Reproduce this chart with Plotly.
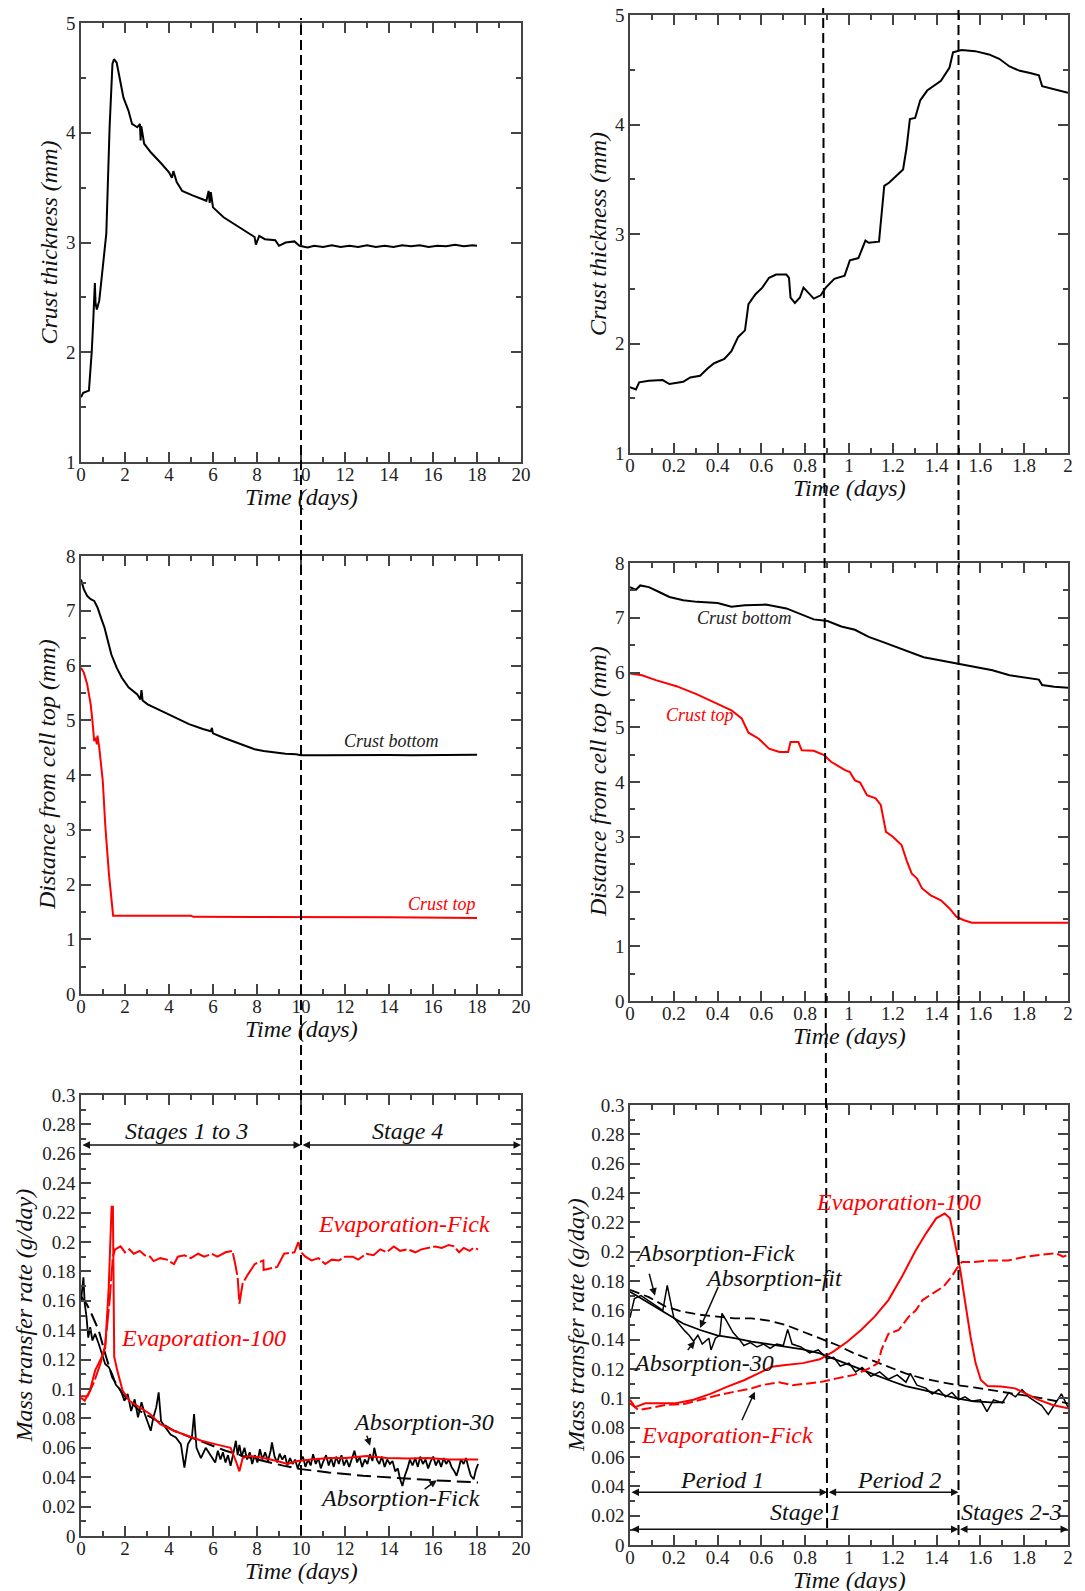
import plotly.graph_objects as go

W, H = 1085, 1591
OFF = 8  # the page body margin shifts the figure by this many px

# ---------------- data (time in days) ----------------
thk_long = [(0, 1.59), (0.1, 1.63), (0.36, 1.65), (0.44, 1.86), (0.49, 2.01), (0.56, 2.3), (0.6, 2.53),
            (0.63, 2.63), (0.66, 2.45), (0.72, 2.39), (0.83, 2.47), (0.99, 2.77), (1.15, 3.08), (1.22, 3.53),
            (1.30, 4.05), (1.43, 4.63), (1.5, 4.67), (1.62, 4.64), (1.74, 4.51), (1.93, 4.32), (2.16, 4.20),
            (2.32, 4.08), (2.56, 4.05), (2.68, 4.08), (2.71, 3.93), (2.74, 4.06), (2.87, 3.90), (3.18, 3.82),
            (3.65, 3.72), (4.0, 3.64), (4.13, 3.59), (4.2, 3.65), (4.35, 3.55), (4.6, 3.47), (5.07, 3.43),
            (5.7, 3.38), (5.8, 3.47), (5.85, 3.36), (5.9, 3.46), (6.0, 3.32), (6.48, 3.23), (6.95, 3.17),
            (7.42, 3.11), (7.89, 3.05), (7.95, 2.98), (8.1, 3.06), (8.36, 3.03), (8.83, 3.02), (9.0, 2.97),
            (9.3, 3.0), (9.7, 3.01), (9.93, 2.97), (10.3, 2.955), (10.6, 2.97), (11, 2.96), (11.4, 2.975),
            (11.8, 2.96), (12.2, 2.97), (12.6, 2.96), (13, 2.975), (13.4, 2.96), (13.8, 2.97), (14.2, 2.96),
            (14.6, 2.975), (15, 2.965), (15.4, 2.975), (15.8, 2.96), (16.2, 2.97), (16.6, 2.965), (17, 2.98),
            (17.4, 2.965), (17.8, 2.975), (18, 2.97)]

thk_short = [(0, 1.60), (0.027, 1.58), (0.042, 1.645), (0.086, 1.66), (0.149, 1.666), (0.18, 1.63),
             (0.243, 1.65), (0.275, 1.69), (0.32, 1.705), (0.353, 1.77), (0.384, 1.82), (0.431, 1.86),
             (0.463, 1.93), (0.494, 2.06), (0.525, 2.12), (0.541, 2.36), (0.573, 2.45), (0.604, 2.51),
             (0.635, 2.60), (0.667, 2.63), (0.714, 2.63), (0.726, 2.60), (0.733, 2.42), (0.753, 2.37),
             (0.776, 2.42), (0.792, 2.51), (0.816, 2.46), (0.839, 2.41), (0.871, 2.44), (0.894, 2.51),
             (0.933, 2.59), (0.98, 2.62), (1.004, 2.76), (1.043, 2.78), (1.075, 2.94), (1.09, 2.92),
             (1.137, 2.93), (1.161, 3.44), (1.184, 3.47), (1.216, 3.53), (1.247, 3.59), (1.263, 3.79),
             (1.278, 4.05), (1.302, 4.06), (1.325, 4.22), (1.357, 4.31), (1.42, 4.40), (1.459, 4.52),
             (1.475, 4.66), (1.514, 4.68), (1.576, 4.67), (1.639, 4.64), (1.686, 4.60), (1.733, 4.53),
             (1.78, 4.49), (1.827, 4.47), (1.867, 4.45), (1.882, 4.35), (1.92, 4.33), (1.969, 4.31), (2.0, 4.29)]

bottom_long = [(0, 7.57), (0.13, 7.39), (0.28, 7.27), (0.44, 7.21), (0.6, 7.18), (0.75, 7.06), (0.91, 6.87),
               (1.07, 6.69), (1.22, 6.45), (1.38, 6.20), (1.62, 5.96), (1.85, 5.78), (2.16, 5.60), (2.56, 5.47),
               (2.7, 5.38), (2.75, 5.55), (2.8, 5.36), (3.03, 5.29), (3.65, 5.17), (4.28, 5.05), (4.91, 4.93),
               (5.54, 4.84), (5.9, 4.80), (5.95, 4.86), (6.0, 4.76), (6.48, 4.68), (7.1, 4.59), (7.89, 4.47),
               (8.3, 4.44), (8.83, 4.41), (9.3, 4.39), (9.77, 4.38), (10.0, 4.36), (11, 4.36), (12, 4.365),
               (13, 4.36), (14, 4.365), (15, 4.36), (16, 4.365), (17, 4.36), (18, 4.37)]
top_long = [(0, 5.96), (0.13, 5.87), (0.28, 5.66), (0.44, 5.29), (0.52, 4.99), (0.6, 4.62), (0.67, 4.68),
            (0.72, 4.56), (0.75, 4.72), (0.78, 4.58), (0.83, 4.50), (0.99, 3.89), (1.11, 3.04), (1.27, 2.19),
            (1.46, 1.43), (3, 1.43), (5, 1.43), (5.1, 1.41), (10, 1.41), (14, 1.40), (18, 1.39)]

bottom_short = [(0, 7.56), (0.027, 7.51), (0.047, 7.59), (0.086, 7.56), (0.133, 7.47), (0.18, 7.38),
                (0.243, 7.32), (0.306, 7.29), (0.4, 7.27), (0.463, 7.20), (0.525, 7.23), (0.62, 7.24),
                (0.714, 7.17), (0.776, 7.07), (0.839, 6.97), (0.902, 6.94), (0.965, 6.84), (1.027, 6.78),
                (1.09, 6.65), (1.153, 6.56), (1.216, 6.47), (1.278, 6.37), (1.341, 6.28), (1.42, 6.22),
                (1.498, 6.16), (1.576, 6.09), (1.655, 6.04), (1.733, 5.95), (1.812, 5.91), (1.867, 5.87),
                (1.882, 5.77), (1.937, 5.74), (2.0, 5.72)]
top_short = [(0, 5.98), (0.055, 5.95), (0.118, 5.86), (0.212, 5.75), (0.306, 5.60), (0.4, 5.43), (0.463, 5.31),
             (0.51, 5.16), (0.541, 4.90), (0.588, 4.79), (0.635, 4.61), (0.682, 4.55), (0.722, 4.55),
             (0.733, 4.73), (0.769, 4.73), (0.784, 4.58), (0.839, 4.57), (0.886, 4.49), (0.918, 4.37),
             (0.98, 4.22), (1.004, 4.18), (1.027, 4.03), (1.051, 3.99), (1.082, 3.76), (1.122, 3.70),
             (1.145, 3.58), (1.169, 3.09), (1.2, 3.00), (1.24, 2.85), (1.263, 2.57), (1.286, 2.33),
             (1.31, 2.24), (1.333, 2.06), (1.373, 1.93), (1.42, 1.84), (1.459, 1.69), (1.49, 1.54),
             (1.522, 1.48), (1.561, 1.43), (2.0, 1.43)]

evap_fick_long = [(0, 0.095), (0.3, 0.095), (0.6, 0.105), (0.9, 0.118), (1.1, 0.13), (1.3, 0.16), (1.45, 0.19),
                  (1.55, 0.195), (1.8, 0.197), (2.0, 0.193), (2.2, 0.195), (2.4, 0.192), (2.67, 0.194),
                  (2.9, 0.191), (3.14, 0.190), (3.3, 0.187), (3.6, 0.189), (3.9, 0.188), (4.23, 0.185),
                  (4.4, 0.190), (4.7, 0.191), (5.0, 0.189), (5.32, 0.192), (5.6, 0.190), (5.95, 0.192),
                  (6.2, 0.190), (6.57, 0.193), (6.88, 0.194), (7.01, 0.185), (7.12, 0.176), (7.2, 0.158),
                  (7.35, 0.172), (7.59, 0.178), (7.9, 0.185), (8.29, 0.1875), (8.3, 0.181), (8.92, 0.183),
                  (9.23, 0.192), (9.7, 0.193), (9.88, 0.200), (10.0, 0.193), (10.2, 0.190), (10.48, 0.1875),
                  (10.8, 0.189), (11.1, 0.185), (11.4, 0.188), (11.73, 0.1875), (12.0, 0.190), (12.35, 0.19),
                  (12.6, 0.188), (12.97, 0.192), (13.3, 0.191), (13.6, 0.195), (13.9, 0.193), (14.22, 0.197),
                  (14.5, 0.194), (14.85, 0.195), (15.2, 0.193), (15.47, 0.195), (15.8, 0.196), (16.1, 0.197),
                  (16.4, 0.196), (16.72, 0.198), (16.95, 0.197), (17.19, 0.193), (17.4, 0.196), (17.66, 0.194),
                  (17.85, 0.196), (18.05, 0.195)]
evap_100_long = [(0, 0.094), (0.17, 0.092), (0.41, 0.099), (0.64, 0.1125), (0.95, 0.122), (1.1, 0.128),
                 (1.26, 0.169), (1.39, 0.224), (1.45, 0.224), (1.51, 0.122), (1.65, 0.1125), (1.89, 0.099),
                 (2.2, 0.092), (2.67, 0.0875), (3.14, 0.083), (3.6, 0.076), (4.23, 0.0716), (4.86, 0.068),
                 (5.48, 0.0648), (6.1, 0.0625), (6.8, 0.060), (7.04, 0.051), (7.2, 0.044), (7.35, 0.053),
                 (7.67, 0.0545), (8.29, 0.053), (8.92, 0.051), (9.38, 0.049), (9.85, 0.051), (10.48, 0.052),
                 (11.26, 0.053), (12.04, 0.053), (12.97, 0.0545), (13.91, 0.053), (14.85, 0.0527),
                 (15.78, 0.053), (16.72, 0.052), (18.05, 0.052)]
abs_30_long = [(0, 0.16), (0.05, 0.169), (0.11, 0.176), (0.17, 0.158), (0.25, 0.149), (0.33, 0.135), (0.42, 0.142),
               (0.52, 0.133), (0.64, 0.1375), (0.8, 0.131), (0.95, 0.124), (1.1, 0.117), (1.26, 0.115),
               (1.42, 0.110), (1.58, 0.103), (1.81, 0.099), (1.97, 0.092), (2.12, 0.0966), (2.28, 0.085),
               (2.44, 0.093), (2.59, 0.0807), (2.75, 0.091), (2.9, 0.083), (3.06, 0.076), (3.17, 0.0716),
               (3.29, 0.0807), (3.42, 0.0875), (3.53, 0.0977), (3.64, 0.078), (3.84, 0.0739), (4.07, 0.069),
               (4.31, 0.067), (4.54, 0.0625), (4.7, 0.0466), (4.86, 0.0625), (5.04, 0.067), (5.14, 0.083),
               (5.25, 0.060), (5.45, 0.053), (5.67, 0.060), (5.87, 0.0557), (6.1, 0.050), (6.22, 0.058),
               (6.34, 0.052), (6.45, 0.057), (6.57, 0.050), (6.68, 0.055), (6.8, 0.0477), (6.92, 0.056),
               (7.04, 0.0648), (7.12, 0.055), (7.2, 0.062), (7.3, 0.054), (7.43, 0.060), (7.55, 0.052),
               (7.67, 0.057), (7.78, 0.049), (7.9, 0.055), (8.02, 0.050), (8.13, 0.059), (8.25, 0.052),
               (8.37, 0.057), (8.5, 0.051), (8.62, 0.058), (8.68, 0.0636), (8.8, 0.054), (8.92, 0.050),
               (9.03, 0.056), (9.15, 0.052), (9.27, 0.055), (9.38, 0.048), (9.5, 0.053), (9.62, 0.049),
               (9.73, 0.052), (9.85, 0.046), (9.97, 0.051), (10.09, 0.054), (10.2, 0.047), (10.32, 0.052),
               (10.44, 0.048), (10.55, 0.0557), (10.67, 0.049), (10.79, 0.053), (10.9, 0.046), (11.02, 0.051),
               (11.14, 0.055), (11.26, 0.048), (11.37, 0.053), (11.49, 0.047), (11.6, 0.054), (11.72, 0.049),
               (11.84, 0.055), (11.95, 0.048), (12.07, 0.052), (12.19, 0.047), (12.31, 0.053), (12.43, 0.058),
               (12.55, 0.050), (12.66, 0.054), (12.78, 0.047), (12.9, 0.052), (13.02, 0.049), (13.13, 0.0557),
               (13.25, 0.051), (13.33, 0.060), (13.45, 0.052), (13.56, 0.049), (13.68, 0.054), (13.8, 0.047),
               (13.92, 0.052), (14.04, 0.049), (14.16, 0.051), (14.28, 0.044), (14.4, 0.046), (14.5, 0.039),
               (14.61, 0.034), (14.72, 0.041), (14.84, 0.046), (14.95, 0.052), (15.07, 0.048), (15.19, 0.053),
               (15.31, 0.047), (15.42, 0.054), (15.54, 0.049), (15.66, 0.052), (15.78, 0.046), (15.9, 0.051),
               (16.01, 0.054), (16.13, 0.048), (16.25, 0.052), (16.37, 0.047), (16.49, 0.053), (16.6, 0.049),
               (16.72, 0.052), (16.84, 0.047), (16.96, 0.0443), (17.07, 0.041), (17.17, 0.046), (17.27, 0.052),
               (17.39, 0.049), (17.5, 0.053), (17.62, 0.046), (17.72, 0.041), (17.85, 0.0386), (17.95, 0.045),
               (18.05, 0.049)]
abs_fick_long = [(0, 0.163), (0.25, 0.158), (0.48, 0.151), (0.8, 0.14), (1.1, 0.124), (1.42, 0.108),
                 (1.89, 0.0966), (2.67, 0.085), (3.45, 0.0784), (4.23, 0.0716), (5.01, 0.067), (5.79, 0.0625),
                 (6.57, 0.058), (7.35, 0.0545), (8.29, 0.051), (9.23, 0.0477), (10.0, 0.0455), (11.26, 0.0432),
                 (12.82, 0.041), (14.38, 0.0393), (15.94, 0.038), (18.05, 0.0364)]

evap_100_short = [(0, 0.099), (0.023, 0.094), (0.07, 0.0966), (0.133, 0.0966), (0.21, 0.0966), (0.29, 0.099),
                  (0.367, 0.103), (0.445, 0.108), (0.523, 0.1125), (0.586, 0.117), (0.648, 0.1216),
                  (0.711, 0.1227), (0.789, 0.124), (0.867, 0.1266), (0.93, 0.132), (0.992, 0.1386),
                  (1.055, 0.1466), (1.117, 0.1557), (1.18, 0.167), (1.242, 0.183), (1.305, 0.201),
                  (1.352, 0.2125), (1.398, 0.2227), (1.437, 0.226), (1.461, 0.2227), (1.484, 0.2057),
                  (1.508, 0.1875), (1.531, 0.165), (1.555, 0.142), (1.578, 0.124), (1.602, 0.1125),
                  (1.633, 0.1084), (1.695, 0.108), (1.758, 0.1068), (1.805, 0.1034), (1.867, 0.0989),
                  (1.93, 0.0955), (2.0, 0.0932)]
evap_fick_short = [(0, 0.0966), (0.039, 0.092), (0.086, 0.0932), (0.164, 0.0955), (0.242, 0.096), (0.32, 0.099),
                   (0.398, 0.102), (0.477, 0.1045), (0.555, 0.1068), (0.602, 0.109), (0.68, 0.111),
                   (0.742, 0.109), (0.805, 0.110), (0.867, 0.111), (0.945, 0.1136), (1.023, 0.116),
                   (1.086, 0.120), (1.133, 0.124), (1.148, 0.133), (1.18, 0.144), (1.227, 0.1466),
                   (1.273, 0.1557), (1.305, 0.160), (1.336, 0.167), (1.383, 0.1716), (1.43, 0.176),
                   (1.469, 0.183), (1.492, 0.1886), (1.516, 0.193), (1.57, 0.193), (1.648, 0.194),
                   (1.727, 0.194), (1.805, 0.1966), (1.883, 0.1977), (1.945, 0.199), (1.977, 0.1966), (2.0, 0.1977)]
abs_fick_short = [(0, 0.174), (0.086, 0.169), (0.164, 0.1625), (0.242, 0.159), (0.32, 0.157), (0.398, 0.1557),
                  (0.477, 0.1545), (0.555, 0.1545), (0.633, 0.153), (0.711, 0.150), (0.789, 0.1455),
                  (0.867, 0.141), (0.945, 0.1364), (1.023, 0.1307), (1.102, 0.126), (1.18, 0.1216),
                  (1.258, 0.117), (1.336, 0.1136), (1.414, 0.1114), (1.492, 0.109), (1.57, 0.1075),
                  (1.648, 0.1057), (1.727, 0.1039), (1.805, 0.1023), (1.883, 0.100), (1.961, 0.0977), (2.0, 0.0966)]
abs_fit_short = [(0, 0.1727), (0.086, 0.1648), (0.164, 0.158), (0.242, 0.151), (0.32, 0.1466), (0.398, 0.143),
                 (0.477, 0.141), (0.555, 0.1386), (0.633, 0.137), (0.711, 0.135), (0.789, 0.1334),
                 (0.867, 0.1307), (0.945, 0.126), (1.023, 0.1216), (1.102, 0.117), (1.18, 0.1125),
                 (1.258, 0.1084), (1.336, 0.1057), (1.414, 0.103), (1.492, 0.100), (1.57, 0.098),
                 (1.648, 0.0973), (1.711, 0.0973)]
abs_30_short = [(0, 0.155), (0.02, 0.168), (0.05, 0.17), (0.1, 0.165), (0.15, 0.16), (0.17, 0.177), (0.2, 0.155),
                (0.25, 0.146), (0.27, 0.143), (0.29, 0.139), (0.31, 0.143), (0.33, 0.137), (0.36, 0.141),
                (0.37, 0.133), (0.39, 0.141), (0.41, 0.143), (0.42, 0.158), (0.44, 0.153), (0.47, 0.145),
                (0.5, 0.14), (0.52, 0.136), (0.55, 0.138), (0.58, 0.135), (0.61, 0.137), (0.64, 0.134),
                (0.67, 0.137), (0.7, 0.136), (0.72, 0.147), (0.74, 0.137), (0.78, 0.135), (0.82, 0.131),
                (0.86, 0.133), (0.9, 0.127), (0.93, 0.128), (0.96, 0.122), (1.0, 0.124), (1.03, 0.118),
                (1.06, 0.121), (1.1, 0.115), (1.14, 0.118), (1.18, 0.113), (1.22, 0.116), (1.26, 0.111),
                (1.28, 0.117), (1.31, 0.109), (1.35, 0.107), (1.38, 0.103), (1.41, 0.106), (1.44, 0.101),
                (1.47, 0.104), (1.5, 0.099), (1.53, 0.101), (1.56, 0.098), (1.6, 0.099), (1.63, 0.091),
                (1.66, 0.099), (1.7, 0.097), (1.73, 0.104), (1.76, 0.101), (1.79, 0.106), (1.82, 0.101),
                (1.85, 0.098), (1.88, 0.095), (1.91, 0.089), (1.94, 0.096), (1.97, 0.103), (2.0, 0.094)]

# tick labels
x_long_ticks = [0, 2, 4, 6, 8, 10, 12, 14, 16, 18, 20]
x_short_ticks = [0, 0.2, 0.4, 0.6, 0.8, 1, 1.2, 1.4, 1.6, 1.8, 2]
x_short_text = ["0", "0.2", "0.4", "0.6", "0.8", "1", "1.2", "1.4", "1.6", "1.8", "2"]
thk_ticks = [1, 2, 3, 4, 5]
dist_ticks = [0, 1, 2, 3, 4, 5, 6, 7, 8]
rate_ticks = [0, 0.02, 0.04, 0.06, 0.08, 0.1, 0.12, 0.14, 0.16, 0.18, 0.2, 0.22, 0.24, 0.26, 0.28, 0.3]
rate_text = ["0", "0.02", "0.04", "0.06", "0.08", "0.1", "0.12", "0.14", "0.16", "0.18", "0.2",
             "0.22", "0.24", "0.26", "0.28", "0.3"]

# ---------------- figure ----------------
SERIF = "Liberation Serif"
BLACK = "#000000"
RED = "#ff0000"

fig = go.Figure()


def add(series, ax, color, width=2, dash="solid"):
    xs = [p[0] for p in series]
    ys = [p[1] for p in series]
    fig.add_trace(go.Scatter(x=xs, y=ys, mode="lines", xaxis="x" + ax, yaxis="y" + ax,
                             line=dict(color=color, width=width, dash=dash), hoverinfo="skip"))


add(thk_long, "", BLACK)
add(thk_short, "2", BLACK)
add(bottom_long, "3", BLACK)
add(top_long, "3", RED)
add(bottom_short, "4", BLACK)
add(top_short, "4", RED)
add(abs_30_long, "5", BLACK, 1.8)
add(abs_fick_long, "5", BLACK, 2, "14px,6px")
add(evap_fick_long, "5", RED, 2, "22px,3px")
add(evap_100_long, "5", RED, 2)
add(abs_fick_short, "6", BLACK, 1.8, "10px,5px")
add(abs_fit_short, "6", BLACK, 1.8)
add(abs_30_short, "6", BLACK, 1.5)
add(evap_fick_short, "6", RED, 2, "10px,4px")
add(evap_100_short, "6", RED, 2)


def fx(p):  # page px -> paper x
    return (p - OFF) / W


def fy(p):  # page px -> paper y
    return 1 - (p - OFF) / H


panels = {
    # name: (x px left, x px right, y px top, y px bottom) in page pixels
    "": (81, 521, 23, 462),
    "2": (630, 1068, 15, 453),
    "3": (81, 521, 556, 994),
    "4": (630, 1068, 563, 1001),
    "5": (81, 521, 1095, 1536),
    "6": (630, 1068, 1105, 1545),
}

LINEC = "#444444"
TICKFONT = dict(family=SERIF, size=19, color="#222222")


def axis(domain, rng, tickvals, ticktext, minor_dtick, anchor, is_x):
    d = dict(domain=domain, range=rng, anchor=anchor, showline=True, linecolor=LINEC, linewidth=1.5,
             mirror="ticks", ticks="inside", ticklen=10, tickwidth=1.5, tickcolor=LINEC,
             tickmode="array", tickvals=tickvals, showgrid=False, zeroline=False, tickfont=TICKFONT,
             ticklabeloverflow="allow",
             minor=dict(ticks="inside", ticklen=5, tickwidth=1.5, tickcolor=LINEC, tickmode="linear",
                        tick0=0, dtick=minor_dtick, showgrid=False),
             fixedrange=True, automargin=False)
    if is_x:
        d["ticklabelstandoff"] = -6
    if ticktext is not None:
        d["ticktext"] = ticktext
    return d


specs = {
    "": ([0, 20], x_long_ticks, None, 1, [1, 5], thk_ticks, None, 0.5),
    "2": ([0, 2], x_short_ticks, x_short_text, 0.1, [1, 5], thk_ticks, None, 0.5),
    "3": ([0, 20], x_long_ticks, None, 1, [0, 8], dist_ticks, None, 0.5),
    "4": ([0, 2], x_short_ticks, x_short_text, 0.1, [0, 8], dist_ticks, None, 0.5),
    "5": ([0, 20], x_long_ticks, None, 1, [0, 0.3], rate_ticks, rate_text, 0.01),
    "6": ([0, 2], x_short_ticks, x_short_text, 0.1, [0, 0.3], rate_ticks, rate_text, 0.01),
}

layout = {}
for k, (xl, xr, yt, yb) in panels.items():
    xr_, xt, xtt, xm, yr_, yt_, ytt, ym = specs[k]
    layout["xaxis" + k] = axis([fx(xl), fx(xr)], xr_, xt, xtt, xm, "y" + k, True)
    layout["yaxis" + k] = axis([fy(yb), fy(yt)], yr_, yt_, ytt, ym, "x" + k, False)

fig.update_layout(**layout)

annotations = []


def paper_text(text, xpx, ypx, size=24, angle=0):
    annotations.append(dict(text="<i>" + text + "</i>", x=fx(xpx), y=fy(ypx), xref="paper", yref="paper",
                            showarrow=False, xanchor="center", yanchor="middle", textangle=angle,
                            font=dict(family=SERIF, size=size, color="#111111")))


# axis titles
for k, (xl, xr, yt, yb) in panels.items():
    paper_text("Time (days)", (xl + xr) / 2, yb + 35)
ytitles = {"": ("Crust thickness (mm)", 48), "2": ("Crust thickness (mm)", 598),
           "3": ("Distance from cell top (mm)", 47), "4": ("Distance from cell top (mm)", 598),
           "5": ("Mass transfer rate (g/day)", 23), "6": ("Mass transfer rate (g/day)", 576)}
for k, (t, xpx) in ytitles.items():
    xl, xr, yt, yb = panels[k]
    paper_text(t, xpx, (yt + yb) / 2, angle=-90)


def data_text(text, ax, x, y, color, size=24):
    annotations.append(dict(text="<i>" + text + "</i>", x=x, y=y, xref="x" + ax, yref="y" + ax,
                            showarrow=False, xanchor="center", yanchor="middle",
                            font=dict(family=SERIF, size=size, color=color)))


def data_arrow(ax, x0, y0, x1, y1, both=False):
    annotations.append(dict(text="", x=x1, y=y1, ax=x0, ay=y0, xref="x" + ax, yref="y" + ax,
                            axref="x" + ax, ayref="y" + ax, showarrow=True, arrowhead=2, startarrowhead=2,
                            arrowsize=1, startarrowsize=1, arrowwidth=1.5, arrowcolor="#111111",
                            arrowside="end+start" if both else "end", standoff=0, startstandoff=0))


# panel 3 / 4 labels
data_text("Crust bottom", "3", 14.1, 4.62, "#222222", 18)
data_text("Crust top", "3", 16.4, 1.64, RED, 18)
data_text("Crust bottom", "4", 0.525, 7.0, "#222222", 18)
data_text("Crust top", "4", 0.318, 5.22, RED, 18)

# panel 5 labels
data_text("Stages 1 to 3", "5", 4.8, 0.2755, "#111111")
data_text("Stage 4", "5", 14.85, 0.2755, "#111111")
data_arrow("5", 0, 0.266, 10, 0.266, both=True)
data_arrow("5", 10, 0.266, 20, 0.266, both=True)
data_text("Evaporation-Fick", "5", 14.7, 0.2125, RED)
data_text("Evaporation-100", "5", 5.56, 0.135, RED)
data_text("Absorption-30", "5", 15.55, 0.0775, "#111111")
data_arrow("5", 12.97, 0.0693, 13.14, 0.0614)
data_text("Absorption-Fick", "5", 14.5, 0.026, "#111111")
data_arrow("5", 15.55, 0.0311, 16.17, 0.038)

# panel 6 labels
data_text("Evaporation-100", "6", 1.227, 0.234, RED)
data_text("Absorption-Fick", "6", 0.39, 0.199, "#111111")
data_arrow("6", 0.086, 0.186, 0.114, 0.17)
data_text("Absorption-fit", "6", 0.656, 0.182, "#111111")
data_arrow("6", 0.406, 0.177, 0.32, 0.148)
data_text("Absorption-30", "6", 0.336, 0.124, "#111111")
data_arrow("6", 0.258, 0.132, 0.297, 0.139)
data_text("Evaporation-Fick", "6", 0.445, 0.075, RED)
data_arrow("6", 0.508, 0.084, 0.57, 0.1045)
data_text("Period 1", "6", 0.42, 0.0445, "#111111")
data_text("Period 2", "6", 1.227, 0.0445, "#111111")
data_text("Stage 1", "6", 0.8, 0.0227, "#111111")
data_text("Stages 2-3", "6", 1.74, 0.0227, "#111111")
data_arrow("6", 0, 0.0359, 0.9, 0.0359, both=True)
data_arrow("6", 0.9, 0.0359, 1.5, 0.0359, both=True)
data_arrow("6", 0, 0.0107, 1.5, 0.0107, both=True)
data_arrow("6", 1.5, 0.0107, 2.0, 0.0107, both=True)

# long vertical dashed guide lines
DASH = dict(color="#000000", width=2, dash="10px,5px")
shapes = [
    dict(type="line", xref="x", yref="paper", x0=10, x1=10, y0=fy(1535), y1=fy(18), line=DASH),
    dict(type="line", xref="x2", yref="paper", x0=0.9, x1=0.882, y0=fy(1528), y1=fy(8), line=DASH),
    dict(type="line", xref="x2", yref="paper", x0=1.5, x1=1.5, y0=fy(1535), y1=fy(8), line=DASH),
]

fig.update_layout(width=W, height=H, margin=dict(l=0, r=0, t=0, b=0), paper_bgcolor="white",
                  plot_bgcolor="white", showlegend=False, template="none",
                  annotations=annotations, shapes=shapes)

fig.write_html("out.html")
